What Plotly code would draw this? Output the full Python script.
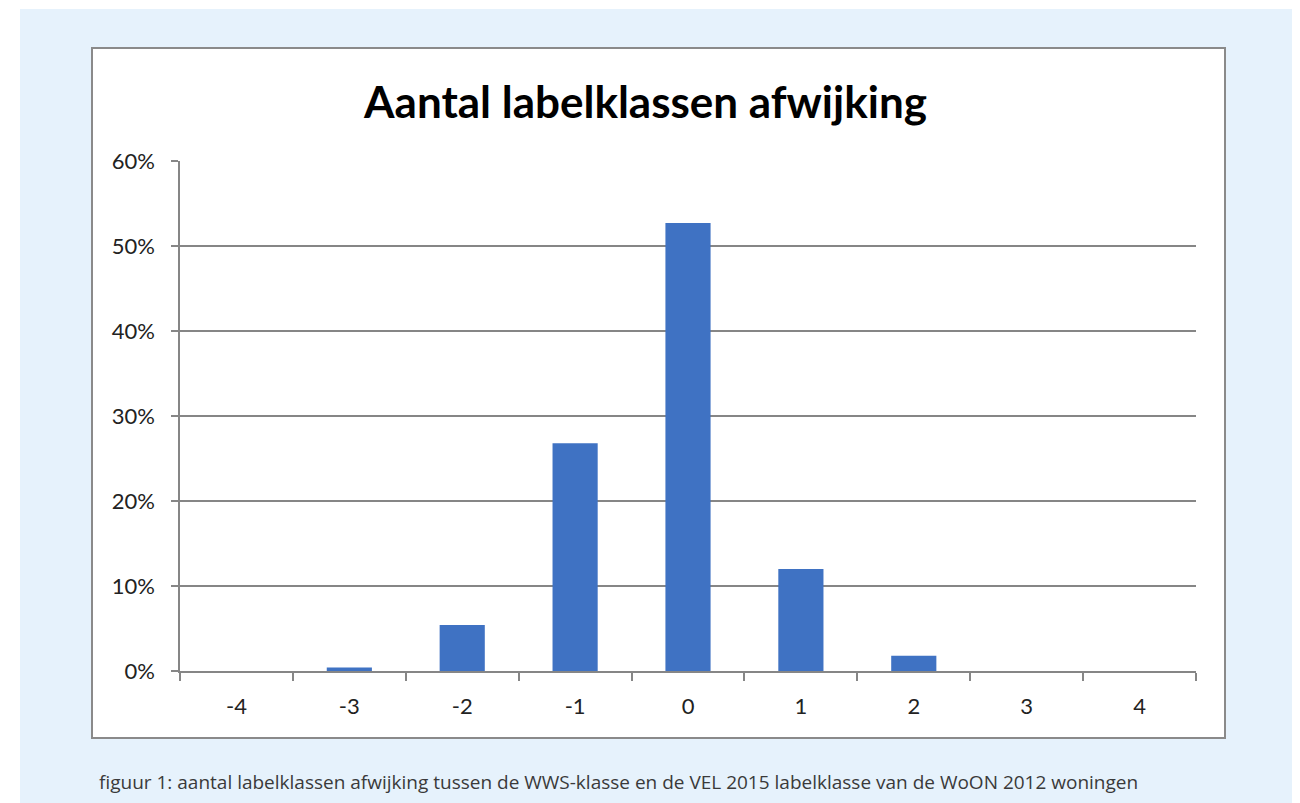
import plotly.graph_objects as go

categories = ["-4", "-3", "-2", "-1", "0", "1", "2", "3", "4"]
values = [0.0, 0.004, 0.054, 0.268, 0.527, 0.120, 0.018, 0.0, 0.0]
y_ticks = [0, 0.1, 0.2, 0.3, 0.4, 0.5, 0.6]
y_ticklabels = ["0%", "10%", "20%", "30%", "40%", "50%", "60%"]
title_text = "Aantal labelklassen afwijking"
caption_text = "figuur 1: aantal labelklassen afwijking tussen de WWS-klasse en de VEL 2015 labelklasse van de WoON 2012 woningen"

# page offset of the plot div (body margin)
OFF = 8
W, H = 1300 - OFF, 803 - OFF
L = 180 - OFF
T = 161 - OFF
R = W - (1196 - OFF)
B = H - (671 - OFF)
pw, ph = W - L - R, H - T - B

def px(x):
    return (x - OFF - L) / pw

def py(y):
    return (H - B - (y - OFF)) / ph

fig = go.Figure(go.Bar(
    x=categories, y=values,
    marker=dict(color="#3F72C3", line=dict(width=0)),
    width=0.4,
    hoverinfo="x+y",
))

fig.update_layout(
    width=W, height=H,
    margin=dict(l=L, r=R, t=T, b=B, pad=0),
    paper_bgcolor="white",
    plot_bgcolor="white",
    showlegend=False,
    font=dict(family="Lato, Open Sans, sans-serif", color="#222"),
    shapes=[
        dict(type="rect", xref="paper", yref="paper", layer="below",
             x0=px(20), x1=px(1297), y0=py(803), y1=py(9),
             fillcolor="#E6F2FC", line=dict(width=0)),
        dict(type="rect", xref="paper", yref="paper", layer="below",
             x0=px(92), x1=px(1225), y0=py(738), y1=py(48),
             fillcolor="white", line=dict(color="#8A8A8A", width=2)),
    ],
    annotations=[
        dict(text="<b>" + title_text + "</b>", xref="paper", yref="paper",
             x=px(645), y=py(101), xanchor="center", yanchor="middle",
             showarrow=False, font=dict(size=44, color="#000", family="Lato, sans-serif")),
        dict(text=caption_text, xref="paper", yref="paper",
             x=px(97), y=py(782), xanchor="left", yanchor="middle",
             showarrow=False, font=dict(size=19, color="#3a3a3a", family="Open Sans, sans-serif")),
    ],
)

fig.update_xaxes(
    type="category",
    tickson="boundaries",
    ticks="outside", ticklen=8, tickcolor="#868686", tickwidth=1.5,
    showline=True, linecolor="#868686", linewidth=1.5,
    showgrid=False,
    tickfont=dict(size=22, color="#222"),
    ticklabelstandoff=15,
    range=[-0.5, 8.5],
)
fig.update_yaxes(
    range=[0, 0.6],
    tickvals=y_ticks, ticktext=y_ticklabels,
    ticks="outside", ticklen=7, tickcolor="#868686", tickwidth=1.5,
    showline=True, linecolor="#868686", linewidth=1.5,
    showgrid=True, gridcolor="#868686", gridwidth=1.5,
    zeroline=False,
    tickfont=dict(size=22, color="#222"),
    ticklabelstandoff=12,
)

fig.write_html("out.html")
